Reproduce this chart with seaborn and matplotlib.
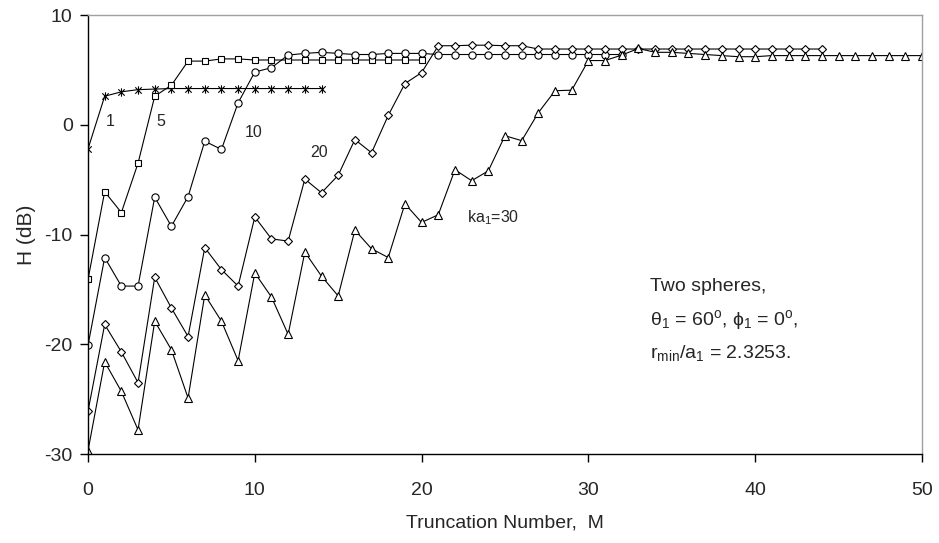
import numpy as np
import pandas as pd
import matplotlib
matplotlib.use("Agg")
import matplotlib.pyplot as plt
from matplotlib.path import Path
import seaborn as sns

# Convergence of H (dB) with truncation number M for several ka1 values
m_ka1 = list(range(0, 15))
h_ka1 = [-2.2, 2.6, 3.0, 3.2, 3.25, 3.3, 3.3, 3.3, 3.3, 3.3, 3.3, 3.3, 3.3, 3.3, 3.3]

m_ka5 = list(range(0, 21))
h_ka5 = [-14.1, -6.1, -8.0, -3.5, 2.6, 3.6, 5.8, 5.8, 6.0, 6.0, 5.9,
         5.9, 5.9, 5.9, 5.9, 5.9, 5.9, 5.9, 5.9, 5.9, 5.9]

m_ka10 = list(range(0, 33))
h_ka10 = [-20.1, -12.1, -14.7, -14.7, -6.6, -9.25, -6.55, -1.5, -2.25, 2.0, 4.8,
          5.2, 6.35, 6.5, 6.6, 6.5, 6.4, 6.4, 6.5, 6.5, 6.5,
          6.4, 6.4, 6.4, 6.4, 6.4, 6.4, 6.4, 6.4, 6.4, 6.4, 6.4, 6.4]

m_ka20 = list(range(0, 45))
h_ka20 = [-26.1, -18.2, -20.7, -23.5, -13.9, -16.7, -19.3, -11.2, -13.2, -14.7, -8.4,
          -10.4, -10.6, -4.95, -6.2, -4.6, -1.35, -2.55, 0.85, 3.75, 4.75,
          7.2, 7.2, 7.25, 7.25, 7.2, 7.2, 6.9, 6.9, 6.9, 6.9,
          6.9, 6.9, 6.9, 6.9, 6.9, 6.9, 6.9, 6.9, 6.9, 6.9,
          6.9, 6.9, 6.9, 6.9]

m_ka30 = list(range(0, 51))
h_ka30 = [-29.7, -21.6, -24.3, -27.8, -17.9, -20.5, -24.9, -15.5, -17.9, -21.5, -13.5,
          -15.7, -19.1, -11.6, -13.8, -15.6, -9.6, -11.3, -12.1, -7.2, -8.9,
          -8.2, -4.1, -5.1, -4.2, -1.0, -1.45, 1.1, 3.1, 3.15, 5.85,
          5.85, 6.35, 6.95, 6.6, 6.6, 6.5, 6.4, 6.3, 6.2, 6.2,
          6.3, 6.3, 6.3, 6.3, 6.3, 6.3, 6.3, 6.3, 6.3, 6.3]

x_ticks = [0, 10, 20, 30, 40, 50]
y_ticks = [-30, -20, -10, 0, 10]

sns.set_style("white")
plt.rcParams["font.family"] = ["Liberation Sans", "DejaVu Sans"]
plt.rcParams["mathtext.fontset"] = "custom"
plt.rcParams["mathtext.rm"] = "Liberation Sans"
plt.rcParams["mathtext.it"] = "Liberation Sans:italic"
plt.rcParams["axes.unicode_minus"] = False

# asterisk marker: an "x" crossed by a vertical stroke
star = Path([(-1, -1), (1, 1), (-1, 1), (1, -1), (0, -1.3), (0, 1.3)],
            [Path.MOVETO, Path.LINETO, Path.MOVETO, Path.LINETO, Path.MOVETO, Path.LINETO])

fig = plt.figure(figsize=(9.39, 5.43), dpi=100)
ax = fig.add_axes([88 / 939, 1 - 454 / 543, (922 - 88) / 939, (454 - 15) / 543])

series = [
    (m_ka1, h_ka1, star, 6.0),
    (m_ka5, h_ka5, "s", 5.0),
    (m_ka10, h_ka10, "o", 5.2),
    (m_ka20, h_ka20, "D", 4.0),
    (m_ka30, h_ka30, "^", 5.5),
]
for m, h, mk, ms in series:
    df = pd.DataFrame({"M": m, "H": h})
    sns.lineplot(data=df, x="M", y="H", ax=ax, color="black", linewidth=0.8,
                 marker=mk, markersize=ms, markerfacecolor="white",
                 markeredgecolor="black", markeredgewidth=0.8)

ax.set_xlim(0, 50)
ax.set_ylim(-30, 10)
ax.set_xticks(x_ticks)
ax.set_yticks(y_ticks)
ax.tick_params(axis="both", direction="out", length=6, width=1, color="black",
               labelsize=14, bottom=True, left=True)
ax.tick_params(axis="x", pad=14)
ax.tick_params(axis="y", pad=5)
ax.set_xlabel("Truncation Number,  M", fontsize=14, labelpad=11)
ax.set_ylabel("H (dB)", fontsize=15, labelpad=6)

for side in ("left", "bottom"):
    ax.spines[side].set_color("black")
    ax.spines[side].set_linewidth(1.0)
for side in ("top", "right"):
    ax.spines[side].set_color("#a0a0a0")
    ax.spines[side].set_linewidth(1.0)

# series labels
lab_kw = dict(fontsize=11.5, ha="center", va="center")
ax.text(1.36, 0.28, "1", **lab_kw)
ax.text(4.36, 0.28, "5", **lab_kw)
ax.text(9.91, -0.72, "10", **lab_kw)
ax.text(13.87, -2.55, "20", **lab_kw)
ax.text(22.7, -8.43, r"ka$_1$=30", fontsize=11.5, ha="left", va="center")

# configuration note
note_kw = dict(fontsize=14, ha="left", va="center")
ax.text(33.7, -14.76, "Two spheres,", **note_kw)
ax.text(33.7, -17.79, r"θ$_1$ = 60$^{\mathrm{o}}$, ϕ$_1$ = 0$^{\mathrm{o}}$,", **note_kw)
ax.text(33.7, -20.82, r"r$_{\mathrm{min}}$/a$_1$ = 2.3253.", **note_kw)

fig.savefig("out.png", dpi=100, facecolor="white")
